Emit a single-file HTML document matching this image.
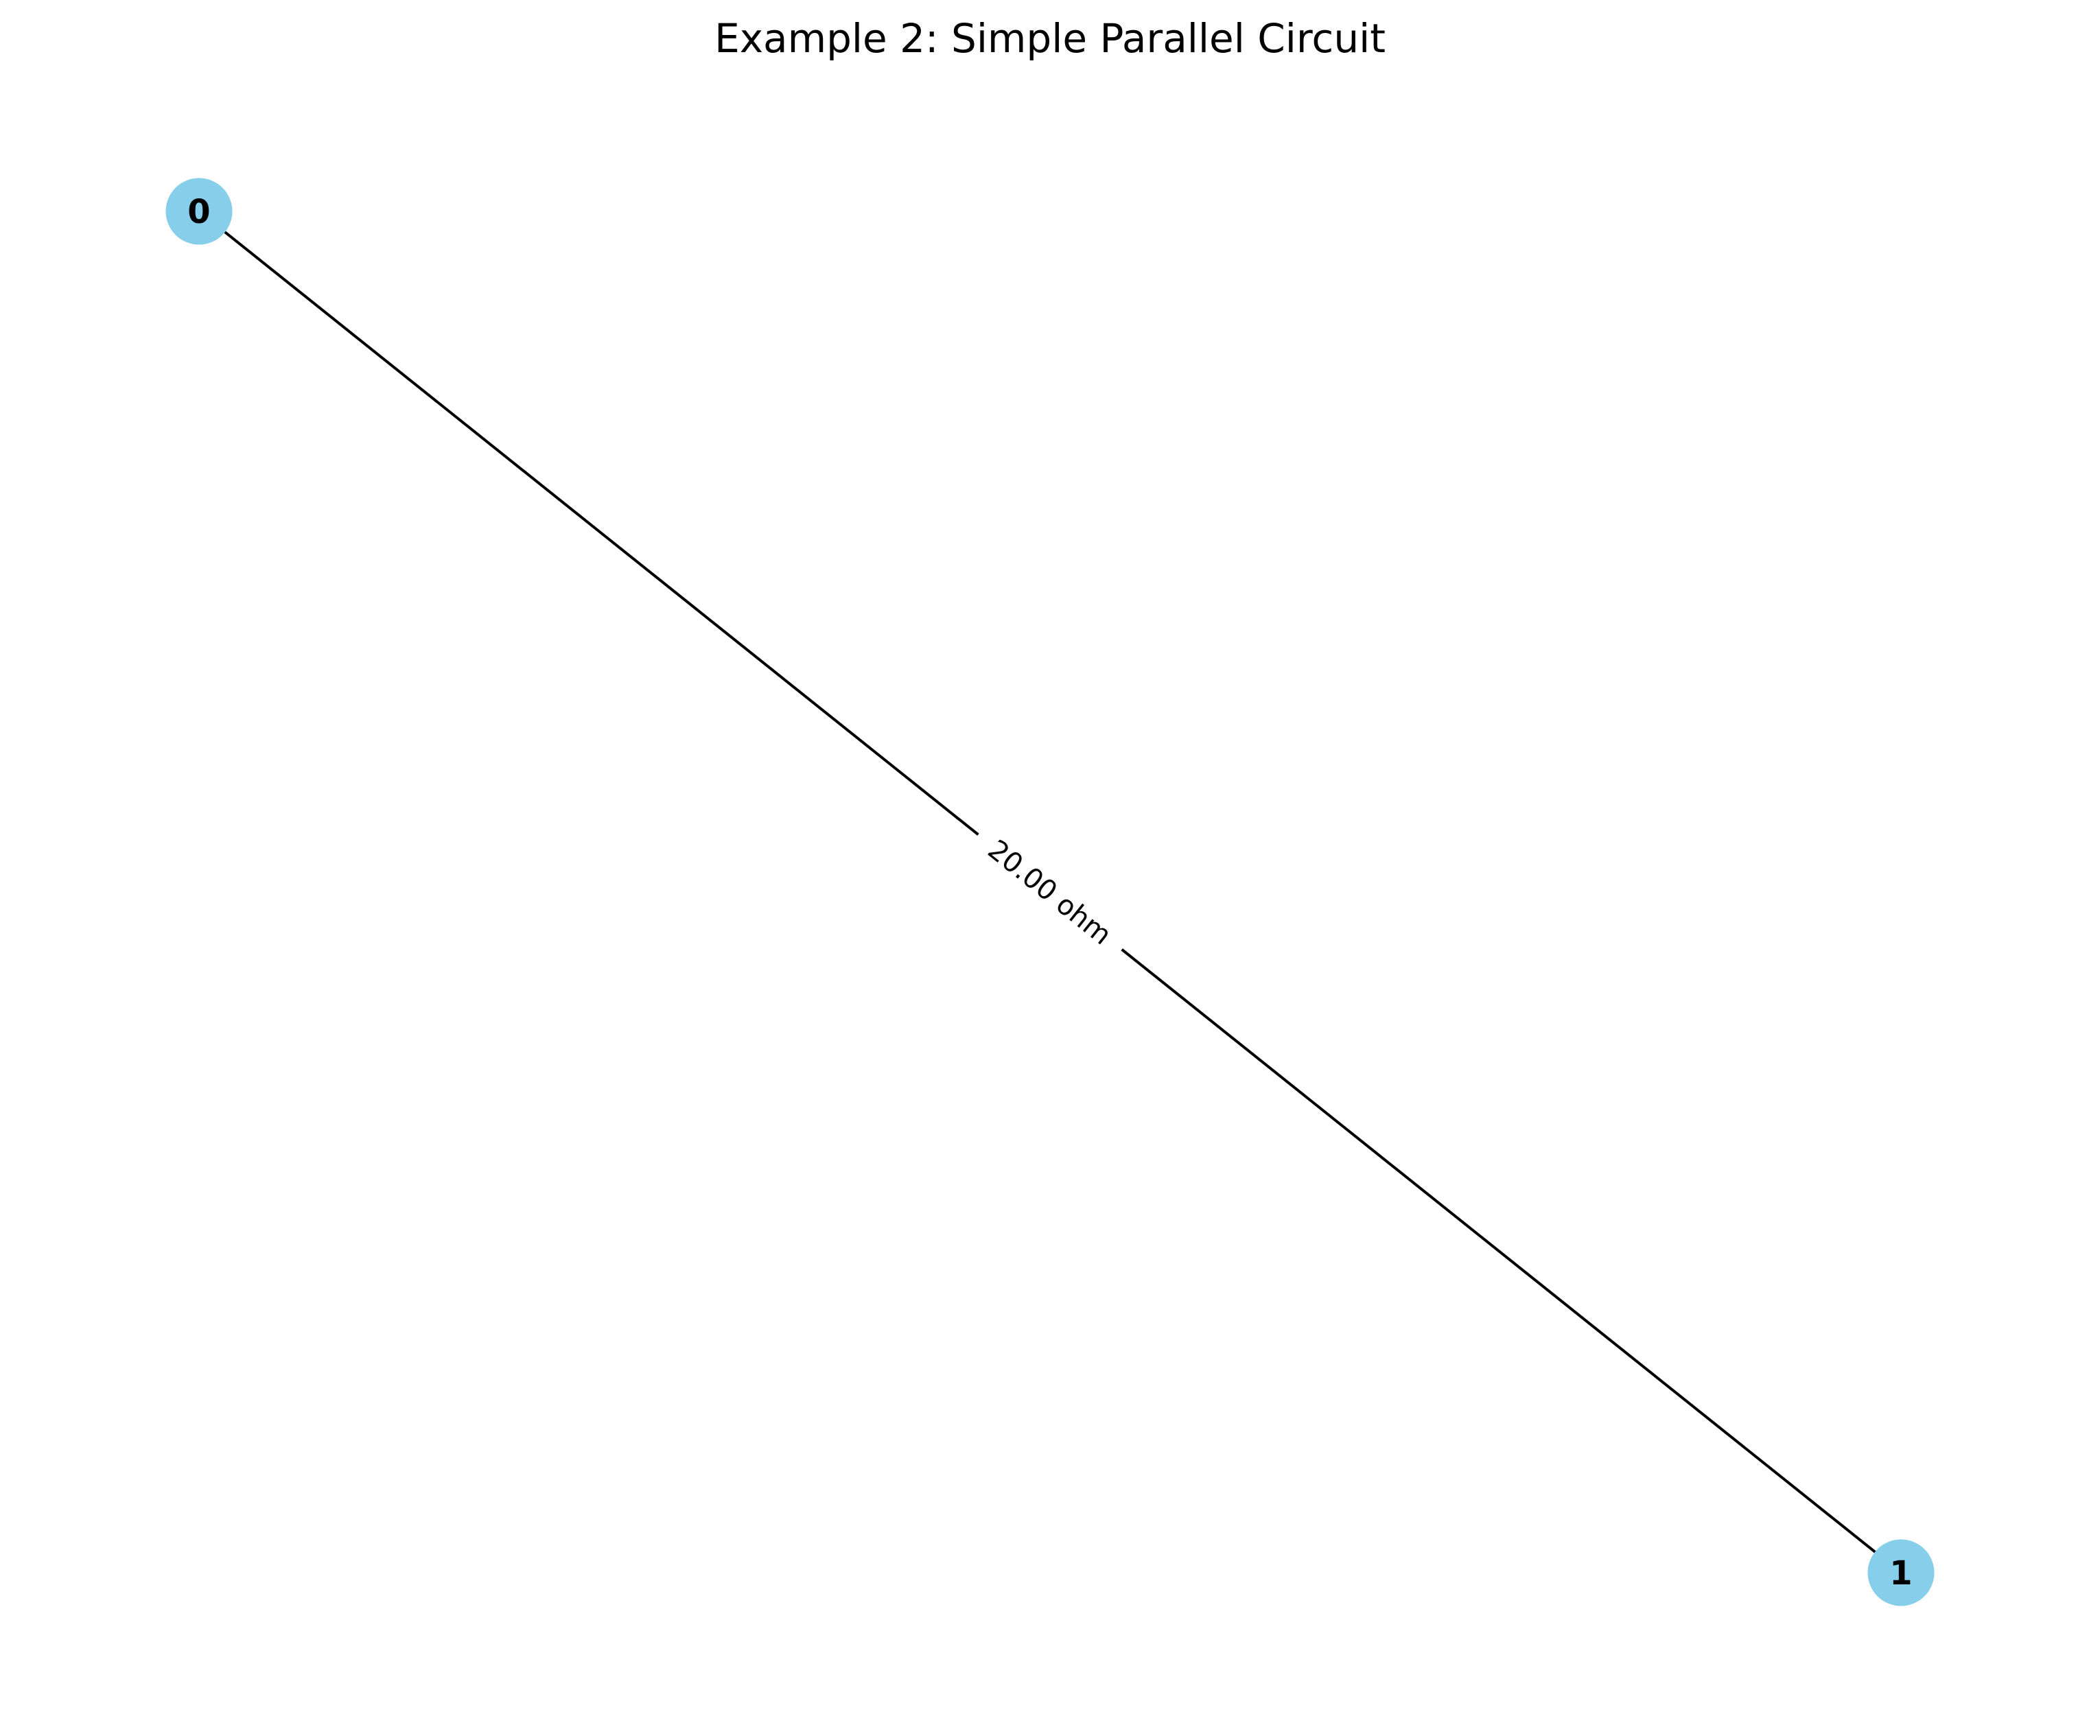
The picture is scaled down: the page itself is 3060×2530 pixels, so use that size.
<!DOCTYPE html>
<html><head><meta charset="utf-8"><style>body{margin:0;background:#fff}svg{display:block}</style></head>
<body>
<svg width="3060" height="2530" viewBox="0 0 3060 2530" xmlns="http://www.w3.org/2000/svg" font-family="'DejaVu Sans','Liberation Sans',sans-serif">
<rect width="3060" height="2530" fill="#fff"/>
<text x="1530" y="76" font-size="58" text-anchor="middle" fill="#000">Example 2: Simple Parallel Circuit</text>
<g id="g"></g>
</svg>
<script>
const nodeIds = ["0", "1"];
const nodeX = [290, 2770];
const nodeY = [308, 2292];
const edgeFrom = [0];
const edgeTo = [1];
const edgeLabels = ["20.00 ohm"];
const g = document.getElementById('g');
const NS = 'http://www.w3.org/2000/svg';
function mk(t, a){const e=document.createElementNS(NS,t);for(const k in a)e.setAttribute(k,a[k]);return e;}
edgeFrom.forEach((f,i)=>{
  const t=edgeTo[i];
  const l=mk('line',{x1:nodeX[f],y1:nodeY[f],x2:nodeX[t],y2:nodeY[t],stroke:'#000','stroke-width':4});
  
  
  g.appendChild(l);
});
edgeFrom.forEach((f,i)=>{
  const t=edgeTo[i];
  const mx=(nodeX[f]+nodeX[t])/2, my=(nodeY[f]+nodeY[t])/2;
  const ang=Math.atan2(nodeY[t]-nodeY[f], nodeX[t]-nodeX[f])*180/Math.PI;
  const grp=mk('g',{transform:`translate(${mx},${my}) rotate(${ang})`});
  
  
  grp.appendChild(mk('rect',{x:-134,y:-30,width:268,height:60,fill:'#fff'}));
  const tx=mk('text',{x:0,y:14,'font-size':40,'text-anchor':'middle',fill:'#000'});
  tx.textContent=edgeLabels[i];
  grp.appendChild(tx);
  g.appendChild(grp);
});
nodeIds.forEach((id,i)=>{
  const c=mk('circle',{cx:nodeX[i],cy:nodeY[i],r:48.5,fill:'#87ceeb'});
  
  
  g.appendChild(c);
  const tx=mk('text',{x:nodeX[i],y:nodeY[i]+17,'font-size':48,'font-weight':'bold','text-anchor':'middle',fill:'#000'});
  
  
  tx.textContent=id;
  g.appendChild(tx);
});
</script>
</body></html>
